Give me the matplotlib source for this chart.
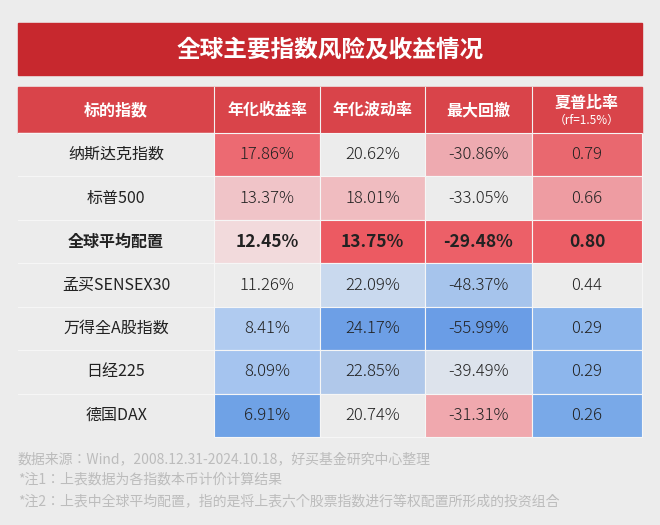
import matplotlib
matplotlib.use("Agg")
import matplotlib.pyplot as plt
from matplotlib.patches import Rectangle
from matplotlib import font_manager as fm

cjk = sorted({f.name for f in fm.fontManager.ttflist if "CJK" in f.name})
fams = [n for n in ["Noto Sans CJK SC", "Noto Sans CJK JP", "Noto Sans CJK TC", "Noto Sans CJK KR"] if n in cjk] or cjk
plt.rcParams["font.family"] = fams + ["DejaVu Sans"]

title = "全球主要指数风险及收益情况"
headers = ["标的指数", "年化收益率", "年化波动率", "最大回撤", "夏普比率"]
names = ["纳斯达克指数", "标普500", "全球平均配置", "孟买SENSEX30", "万得全A股指数", "日经225", "德国DAX"]
ret = ["17.86%", "13.37%", "12.45%", "11.26%", "8.41%", "8.09%", "6.91%"]
vol = ["20.62%", "18.01%", "13.75%", "22.09%", "24.17%", "22.85%", "20.74%"]
mdd = ["-30.86%", "-33.05%", "-29.48%", "-48.37%", "-55.99%", "-39.49%", "-31.31%"]
sharpe = ["0.79", "0.66", "0.80", "0.44", "0.29", "0.29", "0.26"]
notes = ["数据来源：Wind，2008.12.31-2024.10.18，好买基金研究中心整理",
         "*注1：上表数据为各指数本币计价计算结果",
         "*注2：上表中全球平均配置，指的是将上表六个股票指数进行等权配置所形成的投资组合"]

colors = [
    ["#ec6a72", "#ececec", "#eeaab0", "#e9686f"],
    ["#f0c4c8", "#f0bcc0", "#ececec", "#ee9ca2"],
    ["#f2dadc", "#ec5a62", "#ec6068", "#ec5e66"],
    ["#ececec", "#c9d9ee", "#a6c4ec", "#ececec"],
    ["#b0cbf0", "#6d9fe6", "#6a9de6", "#8db6ec"],
    ["#a5c4ef", "#b0c8ea", "#dde3ec", "#8db6ec"],
    ["#6fa2e6", "#ececec", "#f0a8ae", "#79a9e8"],
]

W, H = 660, 525
fig = plt.figure(figsize=(W/100, H/100), dpi=100, facecolor="#ececec")
ax = fig.add_axes([0, 0, 1, 1])
ax.set_xlim(0, W); ax.set_ylim(H, 0); ax.axis("off")

ax.add_patch(Rectangle((18, 23), 624, 52, color="#c7282e"))
ax.text(330, 49, title, color="white", fontsize=17, fontweight="bold", ha="center", va="center")

xs = [18, 214, 320, 425, 532, 642]
top, hh = 87, 46
ax.add_patch(Rectangle((18, top), 624, hh, color="#d9444a"))
for i, h in enumerate(headers):
    cx = (xs[i] + xs[i+1]) / 2
    if i == 4:
        ax.text(cx, top + 16, h, color="white", fontsize=11.5, fontweight="bold", ha="center", va="center")
        ax.text(cx, top + 33, "（rf=1.5%）", color="white", fontsize=8.5, ha="center", va="center")
    else:
        ax.text(cx, top + hh/2, h, color="white", fontsize=11.5, fontweight="bold", ha="center", va="center")
for x in xs[1:-1]:
    ax.plot([x, x], [top, top+hh], color="#f2f2f2", lw=0.8)

y0 = top + hh
rh = (437 - y0) / len(names)
cols = [ret, vol, mdd, sharpe]
for r, n in enumerate(names):
    y = y0 + r * rh
    bold = (r == 2)
    fw = "bold" if bold else "normal"
    ax.add_patch(Rectangle((18, y), xs[1]-18, rh, color="#ececec"))
    ax.text((18+xs[1])/2, y+rh/2, n, fontsize=11.5, fontweight=fw, ha="center", va="center", color="#222222")
    for c in range(4):
        ax.add_patch(Rectangle((xs[c+1], y), xs[c+2]-xs[c+1], rh, facecolor=colors[r][c], edgecolor="#f6f6f6", lw=0.8))
        ax.text((xs[c+1]+xs[c+2])/2, y+rh/2, cols[c][r], fontsize=12.5 if bold else 12,
                fontweight="bold" if bold else "light", ha="center", va="center", color="#222222")
    ax.plot([18, xs[1]], [y, y], color="#f6f6f6", lw=0.8)

for i, t in enumerate(notes):
    ax.text(18, 459 + i*21, t, fontsize=10, color="#bcbcbc", ha="left", va="center")

fig.savefig("out.png", dpi=100, facecolor=fig.get_facecolor())
